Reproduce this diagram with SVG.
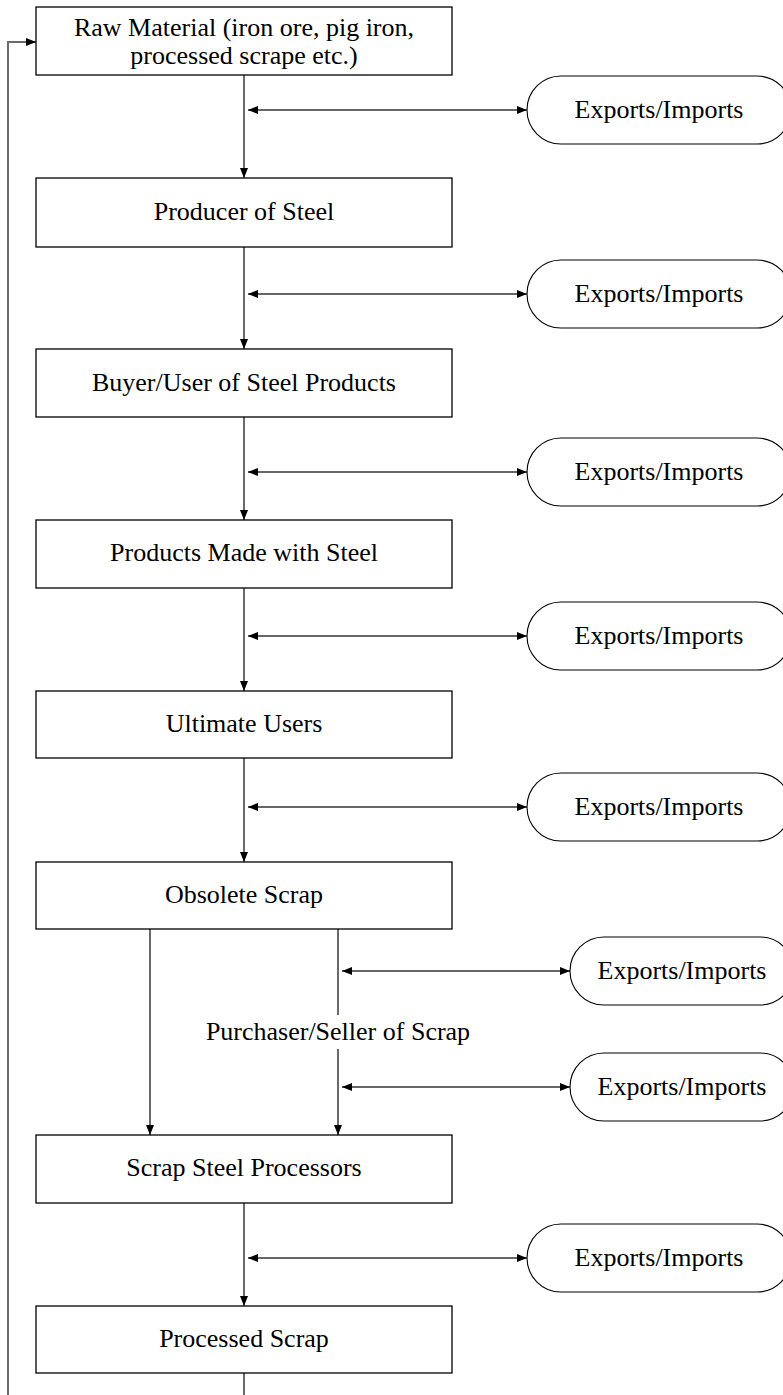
<svg xmlns="http://www.w3.org/2000/svg" width="783" height="1395" viewBox="0 0 783 1395">
<style>
.box{fill:#fff;stroke:#000;stroke-width:1.3}
.pill{fill:#fff;stroke:#000;stroke-width:1.1}
.t{font-family:"Liberation Serif","Times New Roman",serif;font-size:26px;fill:#000;text-anchor:middle}
.v{fill:none;stroke:#6a6a6a;stroke-width:2}
.h{fill:none;stroke:#333;stroke-width:1.3}
</style>
<defs>
<marker id="ah" markerUnits="userSpaceOnUse" markerWidth="10" markerHeight="8" refX="10" refY="4" orient="auto-start-reverse">
<path d="M0,0 L10,4 L0,8 z" fill="#000"/>
</marker>
</defs>
<rect width="783" height="1395" fill="#fff"/>
<g id="connectors">
<path class="v" d="M244,75 V178" marker-end="url(#ah)"/>
<path class="v" d="M244,247 V349" marker-end="url(#ah)"/>
<path class="v" d="M244,417 V520" marker-end="url(#ah)"/>
<path class="v" d="M244,588 V691" marker-end="url(#ah)"/>
<path class="v" d="M244,758 V862" marker-end="url(#ah)"/>
<path class="v" d="M150,929 V1135" marker-end="url(#ah)"/>
<path class="v" d="M338,929 V1015"/>
<path class="v" d="M338,1049 V1135" marker-end="url(#ah)"/>
<path class="v" d="M244,1203 V1306" marker-end="url(#ah)"/>
<path class="v" d="M244,1373 V1395"/>
<path class="v" d="M8,1395 V42 H36" marker-end="url(#ah)"/>
<path class="h" d="M248,110 H527" marker-start="url(#ah)" marker-end="url(#ah)"/>
<path class="h" d="M248,294 H527" marker-start="url(#ah)" marker-end="url(#ah)"/>
<path class="h" d="M248,472 H527" marker-start="url(#ah)" marker-end="url(#ah)"/>
<path class="h" d="M248,636 H527" marker-start="url(#ah)" marker-end="url(#ah)"/>
<path class="h" d="M248,807 H527" marker-start="url(#ah)" marker-end="url(#ah)"/>
<path class="h" d="M342,971 H570" marker-start="url(#ah)" marker-end="url(#ah)"/>
<path class="h" d="M342,1087 H570" marker-start="url(#ah)" marker-end="url(#ah)"/>
<path class="h" d="M248,1258 H527" marker-start="url(#ah)" marker-end="url(#ah)"/>
<text class="t" x="338" y="1040">Purchaser/Seller of Scrap</text>
</g>
<g id="raw-material">
<rect class="box" x="36" y="7" width="416" height="68"/>
<text class="t" x="244" y="36">Raw Material (iron ore, pig iron,</text>
<text class="t" x="244" y="64">processed scrape etc.)</text>
</g>
<g id="producer"><rect class="box" x="36" y="178" width="416" height="69"/><text class="t" x="244" y="220">Producer of Steel</text></g>
<g id="buyer"><rect class="box" x="36" y="349" width="416" height="68"/><text class="t" x="244" y="391">Buyer/User of Steel Products</text></g>
<g id="products"><rect class="box" x="36" y="520" width="416" height="68"/><text class="t" x="244" y="561">Products Made with Steel</text></g>
<g id="ultimate"><rect class="box" x="36" y="691" width="416" height="67"/><text class="t" x="244" y="732">Ultimate Users</text></g>
<g id="obsolete"><rect class="box" x="36" y="862" width="416" height="67"/><text class="t" x="244" y="903">Obsolete Scrap</text></g>
<g id="processors"><rect class="box" x="36" y="1135" width="416" height="68"/><text class="t" x="244" y="1176">Scrap Steel Processors</text></g>
<g id="processed"><rect class="box" x="36" y="1306" width="416" height="67"/><text class="t" x="244" y="1347">Processed Scrap</text></g>
<g id="ei1"><rect class="pill" x="527" y="76" width="264" height="68" rx="34"/><text class="t" x="659" y="118">Exports/Imports</text></g>
<g id="ei2"><rect class="pill" x="527" y="260" width="264" height="68" rx="34"/><text class="t" x="659" y="302">Exports/Imports</text></g>
<g id="ei3"><rect class="pill" x="527" y="438" width="264" height="68" rx="34"/><text class="t" x="659" y="480">Exports/Imports</text></g>
<g id="ei4"><rect class="pill" x="527" y="602" width="264" height="68" rx="34"/><text class="t" x="659" y="644">Exports/Imports</text></g>
<g id="ei5"><rect class="pill" x="527" y="773" width="264" height="68" rx="34"/><text class="t" x="659" y="815">Exports/Imports</text></g>
<g id="ei6"><rect class="pill" x="570" y="937" width="224" height="68" rx="34"/><text class="t" x="682" y="979">Exports/Imports</text></g>
<g id="ei7"><rect class="pill" x="570" y="1053" width="224" height="68" rx="34"/><text class="t" x="682" y="1095">Exports/Imports</text></g>
<g id="ei8"><rect class="pill" x="527" y="1224" width="264" height="68" rx="34"/><text class="t" x="659" y="1266">Exports/Imports</text></g>
</svg>
